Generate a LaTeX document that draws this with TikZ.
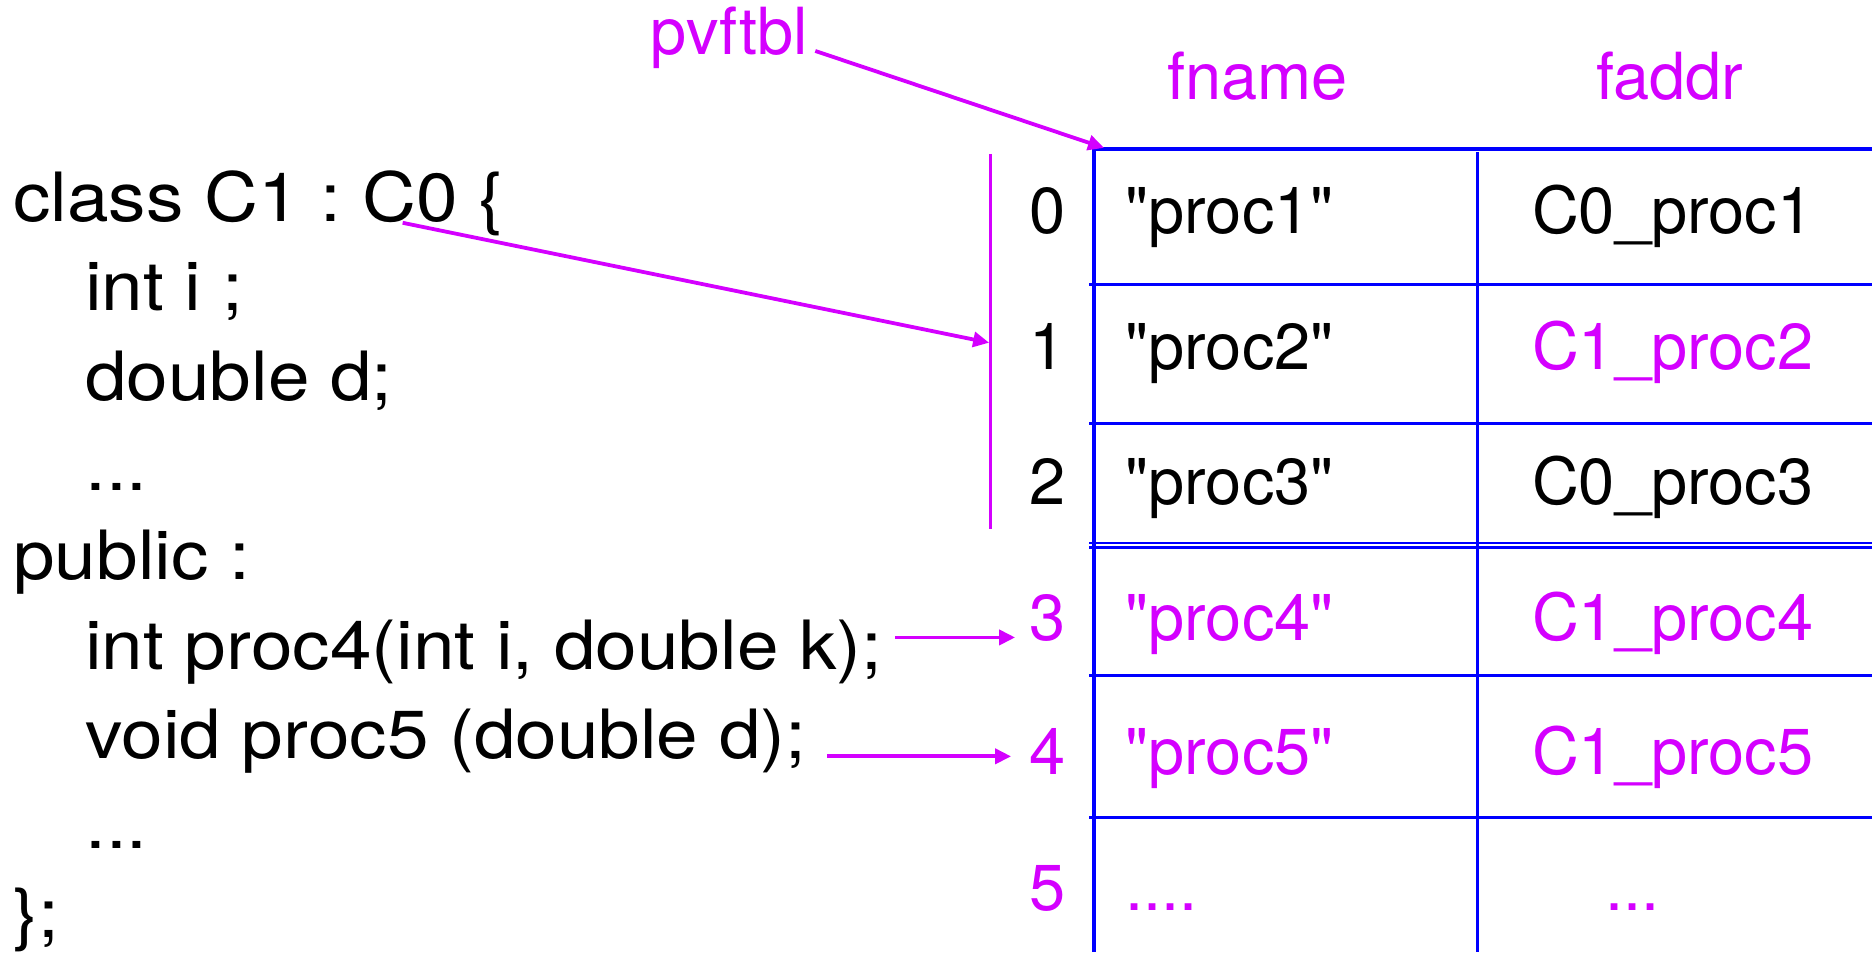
\documentclass[tikz,border=0pt]{standalone}
\usepackage{fontspec}
\setmainfont[Ligatures=TeXOff]{TeX Gyre Heros}
\newfontfamily\codefont[FakeStretch=1.1,Ligatures=TeXOff]{TeX Gyre Heros}
\usetikzlibrary{arrows.meta}
\definecolor{mag}{RGB}{212,0,255}
\definecolor{tblue}{RGB}{0,0,255}
\frenchspacing
\begin{document}
\begin{tikzpicture}[x=0.5pt,y=-0.5pt,
  code/.style={anchor=base west, inner sep=0pt, font=\codefont\fontsize{34}{40}\selectfont},
  cell/.style={anchor=base west, inner sep=0pt, font=\fontsize{32.5}{38}\selectfont},
  idx/.style={anchor=base, inner sep=0pt, font=\fontsize{32.5}{38}\selectfont},
  grid/.style={tblue, line width=1.65pt},
  ptr/.style={mag, line width=1.9pt, -{Triangle[length=8pt,width=7.5pt]}},
]
\fill[white] (0,0) rectangle (1874,953);

% code
\node[code] (l1) at (13,222) {class C1 : C0 \{};
\node[code] (l2) at (85,311) {int i ;};
\node[code] (l3) at (85,401) {double d;};
\node[code] (l4) at (85,491) {...};
\node[code] (l5) at (13,580) {public :};
\node[code] (l6) at (85,670) {int proc4(int i, double k);};
\node[code] (l7) at (85,759) {void proc5 (double d);};
\node[code] (l8) at (85,849) {...};
\node[code] (l9) at (13,938) {\};};

% table grid
\draw[grid] (1095,149) -- (1874,149);
\draw[grid] (1095,149) -- (1095,953);
\draw[grid] (1479,152) -- (1479,953);
\foreach \y in {285,424,676,818} \draw[grid] (1090,\y) -- (1874,\y);
\draw[tblue, line width=1.15pt] (1090,543.5) -- (1874,543.5) (1090,548) -- (1874,548);

% headers
\node[cell, text=mag] (pv) at (651,55) {pvftbl};
\node[cell, text=mag] (fn) at (1168,100) {fname};
\node[cell, text=mag] (fa) at (1597,100) {faddr};

% index numbers
\node[idx] (i0) at (1048,234) {0};
\node[idx] (i1) at (1048,370) {1};
\node[idx] (i2) at (1048,505) {2};
\node[idx, text=mag] (i3) at (1048,641) {3};
\node[idx, text=mag] (i4) at (1048,775) {4};
\node[idx, text=mag] (i5) at (1048,911) {5};

% cells
\node[cell] (n0) at (1126,234) {"proc1"};
\node[cell] (a0) at (1533,234) {C0\_proc1};
\node[cell] (n1) at (1126,370) {"proc2"};
\node[cell, text=mag] (a1) at (1533,370) {C1\_proc2};
\node[cell] (n2) at (1126,505) {"proc3"};
\node[cell] (a2) at (1533,505) {C0\_proc3};
\node[cell, text=mag] (n3) at (1126,641) {"proc4"};
\node[cell, text=mag] (a3) at (1533,641) {C1\_proc4};
\node[cell, text=mag] (n4) at (1126,775) {"proc5"};
\node[cell, text=mag] (a4) at (1533,775) {C1\_proc5};
\node[cell, text=mag] (n5) at (1126,911) {....};
\node[cell, text=mag] (a5) at (1606,911) {...};

% magenta bar
\coordinate (bartop) at (991,154);
\coordinate (barbot) at (991,529);
\draw[mag, line width=1.6pt] (bartop) -- (barbot);

% arrows
\coordinate (pvs) at (816,51);
\coordinate (corner) at (1105,148);
\draw[ptr] (pvs) -- (corner);
\coordinate (c0s) at (403,223);
\coordinate (bar1) at (990,343);
\draw[ptr] (c0s) -- (bar1);
\coordinate (p4s) at (896,638);
\coordinate (p4e) at (1016,638);
\draw[ptr] (p4s) -- (p4e);
\coordinate (p5s) at (828,757);
\coordinate (p5e) at (1012,757);
\draw[ptr] (p5s) -- (p5e);
\end{tikzpicture}
\end{document}
